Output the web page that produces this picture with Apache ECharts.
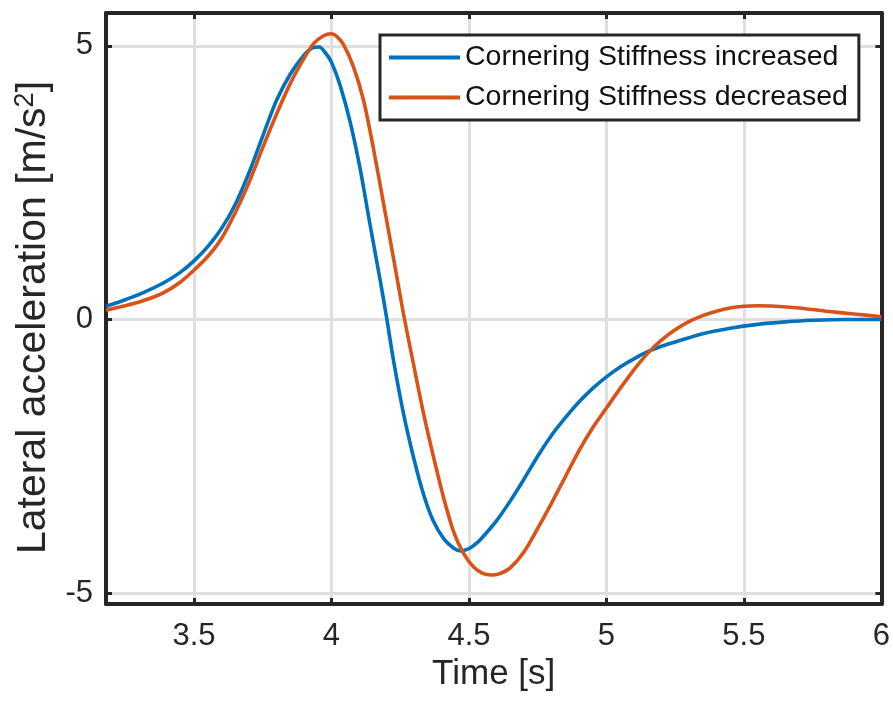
<!DOCTYPE html>
<html>
<head>
<meta charset="utf-8">
<script src="https://cdn.jsdelivr.net/npm/echarts@6/dist/echarts.min.js"></script>
<style>html,body{margin:0;padding:0;background:#fff;}#c{width:893px;height:707px;}</style>
</head>
<body>
<div id="c"></div>
<script>
const xTicks = [3.5, 4, 4.5, 5, 5.5, 6];
const yTicks = [-5, 0, 5];
const seriesNames = ['Cornering Stiffness increased', 'Cornering Stiffness decreased'];

const timeInc = [3.18,3.25,3.32,3.39,3.45,3.50,3.55,3.60,3.65,3.70,3.75,3.80,3.85,3.90,3.93,3.955,3.98,4.00,4.03,4.067,4.104,4.14,4.177,4.20,4.226,4.262,4.30,4.335,4.37,4.41,4.445,4.47,4.50,4.53,4.56,4.60,4.65,4.70,4.75,4.80,4.85,4.90,4.95,5.00,5.05,5.10,5.15,5.20,5.27,5.35,5.45,5.55,5.65,5.75,5.875,6.0];
const accInc = [0.24,0.36,0.50,0.67,0.86,1.07,1.33,1.66,2.10,2.68,3.35,4.00,4.48,4.83,4.96,4.98,4.86,4.70,4.30,3.63,2.76,1.74,0.72,0.05,-0.76,-1.72,-2.55,-3.20,-3.68,-4.02,-4.18,-4.23,-4.19,-4.08,-3.92,-3.68,-3.32,-2.92,-2.50,-2.12,-1.80,-1.51,-1.26,-1.05,-0.87,-0.72,-0.59,-0.49,-0.38,-0.26,-0.16,-0.09,-0.045,-0.015,0.0,0.0];

const timeDec = [3.18,3.25,3.32,3.39,3.45,3.50,3.55,3.60,3.65,3.70,3.75,3.80,3.85,3.90,3.935,3.97,4.00,4.02,4.043,4.079,4.116,4.152,4.189,4.226,4.262,4.30,4.335,4.372,4.409,4.445,4.482,4.518,4.55,4.58,4.61,4.65,4.70,4.75,4.80,4.85,4.90,4.95,5.00,5.05,5.10,5.15,5.20,5.25,5.30,5.35,5.40,5.45,5.50,5.55,5.60,5.70,5.80,5.90,6.00];
const accDec = [0.17,0.25,0.35,0.49,0.68,0.90,1.15,1.48,1.95,2.50,3.14,3.75,4.31,4.77,5.04,5.18,5.22,5.17,5.03,4.63,4.02,3.14,2.13,1.11,0.10,-0.86,-1.72,-2.53,-3.28,-3.89,-4.29,-4.53,-4.64,-4.67,-4.65,-4.54,-4.25,-3.82,-3.36,-2.88,-2.40,-1.98,-1.62,-1.26,-0.92,-0.62,-0.38,-0.19,-0.04,0.07,0.15,0.21,0.24,0.25,0.245,0.21,0.15,0.10,0.05];

const FONT = '"Liberation Sans", Arial, Helvetica, sans-serif';
const TXT = '#262626';
const pairs = (xs, ys) => xs.map((x, i) => [x, ys[i]]);

const chart = echarts.init(document.getElementById('c'), null, {renderer: 'canvas'});
const axisLine = {show: true, onZero: false, lineStyle: {color: TXT, width: 4}};
const grid = {show: true, lineStyle: {color: '#dfdfdf', width: 3}};
const tick = {show: true, inside: true, length: 6, lineStyle: {color: TXT, width: 3}};
chart.setOption({
  backgroundColor: '#fff',
  animation: false,
  grid: {left: 106, right: 11, top: 13, bottom: 103, containLabel: false},
  legend: {
    data: seriesNames,
    orient: 'vertical',
    left: 380, top: 35,
    padding: [8, 11, 8, 9],
    itemGap: 11,
    itemWidth: 71, itemHeight: 4,
    icon: 'rect',
    borderColor: TXT, borderWidth: 3,
    backgroundColor: '#fff',
    textStyle: {fontFamily: FONT, fontSize: 28.5, color: '#111'}
  },
  xAxis: [{
    type: 'value', min: 3.18, max: 6,
    name: 'Time [s]', nameLocation: 'middle', nameGap: 49,
    nameTextStyle: {fontFamily: FONT, fontSize: 35, color: TXT},
    axisLine: axisLine,
    axisTick: Object.assign({customValues: xTicks}, tick),
    axisLabel: {fontFamily: FONT, fontSize: 31, color: TXT, margin: 17, customValues: xTicks},
    splitLine: grid
  }, {
    type: 'value', position: 'top', min: 3.18, max: 6,
    axisLine: axisLine,
    axisTick: Object.assign({customValues: xTicks}, tick),
    axisLabel: {show: false},
    splitLine: {show: false}
  }],
  yAxis: [{
    type: 'value', min: -5.2, max: 5.6,
    name: 'Lateral acceleration [m/s{sup|2}]', nameLocation: 'middle', nameGap: 50, nameRotate: 90,
    nameTextStyle: {fontFamily: FONT, fontSize: 41, color: TXT, padding: [0, 18, 0, 0],
      rich: {sup: {fontFamily: FONT, fontSize: 27, color: TXT, padding: [0, 0, 17, 0]}}},
    axisLine: axisLine,
    axisTick: Object.assign({customValues: yTicks}, tick),
    axisLabel: {fontFamily: FONT, fontSize: 31, color: TXT, margin: 13, customValues: yTicks},
    splitLine: grid
  }, {
    type: 'value', position: 'right', min: -5.2, max: 5.6,
    axisLine: axisLine,
    axisTick: Object.assign({customValues: yTicks}, tick),
    axisLabel: {show: false},
    splitLine: {show: false}
  }],
  series: [{
    name: seriesNames[0], type: 'line', data: pairs(timeInc, accInc),
    showSymbol: false, symbol: 'none', smooth: 0.3,
    lineStyle: {color: '#0072BD', width: 3.6}, itemStyle: {color: '#0072BD'}, clip: true
  }, {
    name: seriesNames[1], type: 'line', data: pairs(timeDec, accDec),
    showSymbol: false, symbol: 'none', smooth: 0.3,
    lineStyle: {color: '#D95319', width: 3.6}, itemStyle: {color: '#D95319'}, clip: true
  }]
});
</script>
</body>
</html>
